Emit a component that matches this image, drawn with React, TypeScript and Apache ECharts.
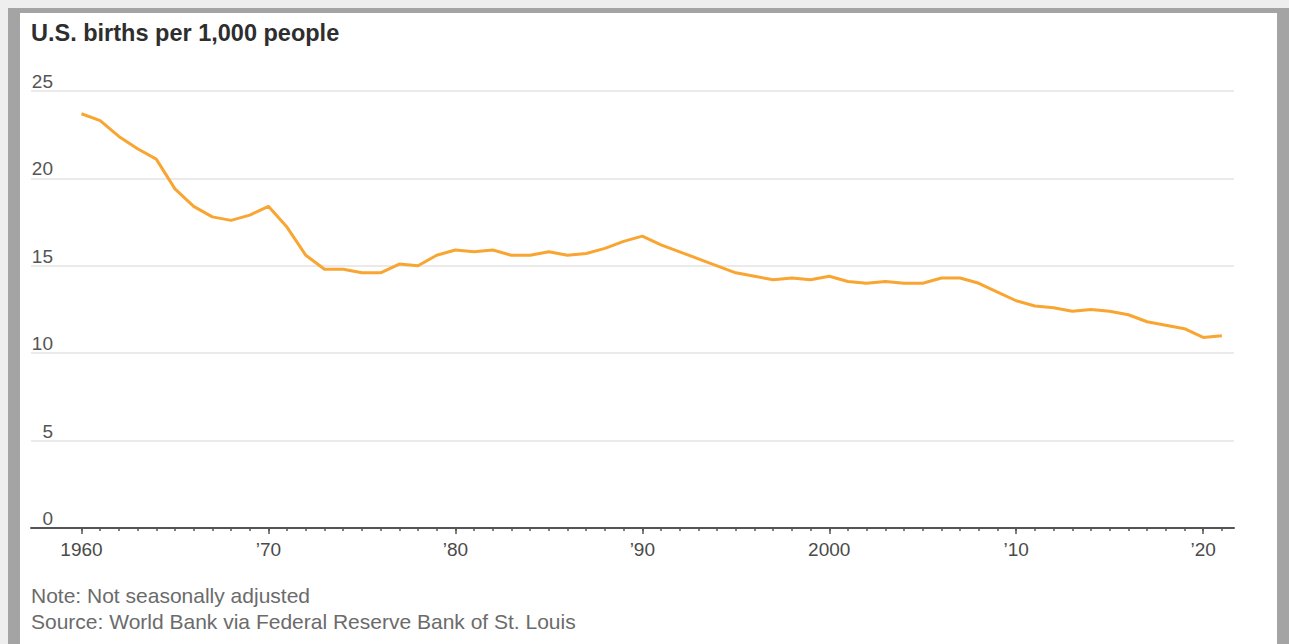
import React, { useEffect, useRef } from 'react';
import * as echarts from 'echarts';

const years = [
  1960, 1961, 1962, 1963, 1964, 1965, 1966, 1967, 1968, 1969,
  1970, 1971, 1972, 1973, 1974, 1975, 1976, 1977, 1978, 1979,
  1980, 1981, 1982, 1983, 1984, 1985, 1986, 1987, 1988, 1989,
  1990, 1991, 1992, 1993, 1994, 1995, 1996, 1997, 1998, 1999,
  2000, 2001, 2002, 2003, 2004, 2005, 2006, 2007, 2008, 2009,
  2010, 2011, 2012, 2013, 2014, 2015, 2016, 2017, 2018, 2019,
  2020, 2021,
];
const birthRate = [
  23.7, 23.3, 22.4, 21.7, 21.1, 19.4, 18.4, 17.8, 17.6, 17.9,
  18.4, 17.2, 15.6, 14.8, 14.8, 14.6, 14.6, 15.1, 15.0, 15.6,
  15.9, 15.8, 15.9, 15.6, 15.6, 15.8, 15.6, 15.7, 16.0, 16.4,
  16.7, 16.2, 15.8, 15.4, 15.0, 14.6, 14.4, 14.2, 14.3, 14.2,
  14.4, 14.1, 14.0, 14.1, 14.0, 14.0, 14.3, 14.3, 14.0, 13.5,
  13.0, 12.7, 12.6, 12.4, 12.5, 12.4, 12.2, 11.8, 11.6, 11.4,
  10.9, 11.0,
];
const decadeTicks = [1960, 1970, 1980, 1990, 2000, 2010, 2020];
const decadeLabels = ['1960', '\u201970', '\u201980', '\u201990', '2000', '\u201910', '\u201920'];
const titleText = 'U.S. births per 1,000 people';
const noteText = 'Note: Not seasonally adjusted';
const sourceText = 'Source: World Bank via Federal Reserve Bank of St. Louis';

const FONT = '"Liberation Sans", Arial, sans-serif';

export default function App() {
  const ref = useRef<HTMLDivElement>(null);

  useEffect(() => {
    if (!ref.current) return;
    const chart = echarts.init(ref.current, null, { renderer: 'svg' });
    const xMin = 1957.3;
    const xMax = 2021.65;
    chart.setOption({
      animation: false,
      backgroundColor: 'transparent',
      textStyle: { fontFamily: FONT },
      title: {
        text: titleText,
        left: 31,
        top: 21,
        padding: 0,
        textStyle: { fontSize: 23.5, fontWeight: 'bold', color: '#2e2e2e', fontFamily: FONT },
      },
      graphic: [
        {
          type: 'text',
          left: 31,
          top: 585,
          style: { text: noteText, fill: '#6b6b6b', font: `21px ${FONT}` },
        },
        {
          type: 'text',
          left: 31,
          top: 611,
          style: { text: sourceText, fill: '#6b6b6b', font: `21px ${FONT}` },
        },
      ],
      grid: { left: 31, right: 55, top: 91, bottom: 116, containLabel: false },
      xAxis: [
        {
          type: 'value',
          min: xMin,
          max: xMax,
          axisLine: { show: true, lineStyle: { color: '#555', width: 2 } },
          axisTick: { show: true, length: 3, customValues: years, lineStyle: { color: '#555', width: 1.5 } },
          axisLabel: { show: false },
          splitLine: { show: false },
        },
        {
          type: 'value',
          min: xMin,
          max: xMax,
          position: 'bottom',
          axisLine: { show: false },
          axisTick: { show: true, length: 6, customValues: decadeTicks, lineStyle: { color: '#555', width: 1.5 } },
          axisLabel: {
            show: true,
            customValues: decadeTicks,
            formatter: (v: number) => decadeLabels[decadeTicks.indexOf(Math.round(v))] ?? '',
            margin: 12,
            fontSize: 19,
            color: '#4a4a4a',
            fontFamily: FONT,
          },
          splitLine: { show: false },
        },
      ],
      yAxis: {
        type: 'value',
        min: 0,
        max: 25,
        interval: 5,
        axisLine: { show: false },
        axisTick: { show: false },
        splitLine: { lineStyle: { color: '#e3e3e3', width: 1.5 } },
        axisLabel: {
          inside: true,
          align: 'right',
          verticalAlign: 'bottom',
          margin: 22,
          fontSize: 19,
          color: '#555',
          fontFamily: FONT,
        },
      },
      series: [
        {
          type: 'line',
          xAxisIndex: 0,
          data: years.map((y, i) => [y, birthRate[i]]),
          showSymbol: false,
          lineStyle: { color: '#f8a531', width: 3 },
          itemStyle: { color: '#f8a531' },
          z: 3,
        },
      ],
    });
    return () => chart.dispose();
  }, []);

  return (
    <div style={{ position: 'fixed', left: 0, top: 0, width: 1289, height: 644, background: '#eeeeee', overflow: 'hidden' }}>
      <div style={{ position: 'absolute', left: 8, top: 8, width: 1281, height: 636, background: '#a4a4a4' }} />
      <div style={{ position: 'absolute', left: 20, top: 13, width: 1257, height: 631, background: '#ffffff' }} />
      <div ref={ref} style={{ position: 'absolute', left: 0, top: 0, width: 1289, height: 644 }} />
    </div>
  );
}
